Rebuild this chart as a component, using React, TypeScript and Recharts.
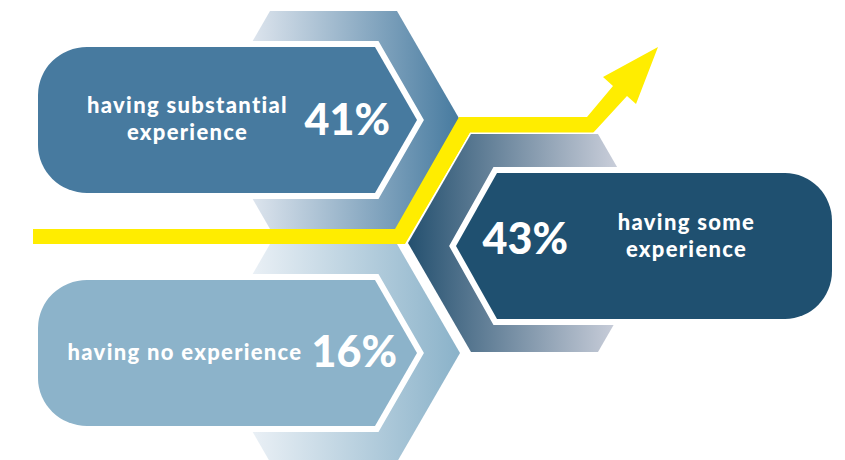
import { ScatterChart, Scatter, XAxis, YAxis } from "recharts";

const categories = ["substantial", "some", "none"];
const labelLines = [
  ["having substantial", "experience"],
  ["having some", "experience"],
  ["having no experience"],
];
const shares = [41, 43, 16];

// hexagon centres, in chart pixels (the hidden axes map 1:1)
const anchors = [
  { x: 333.5, y: 120 },
  { x: 534.5, y: 243 },
  { x: 333.5, y: 353 },
];

const rows = categories.map((name, i) => ({
  name,
  value: shares[i],
  lines: labelLines[i],
  x: anchors[i].x,
  y: anchors[i].y,
}));

const FONT = "Lato, 'Open Sans', sans-serif";
const LABEL_SIZE = 22;
const LABEL_SPACING = 1.3;
const VALUE_SIZE = 43;

const looks = [
  { fill: "#477a9f", hexFrom: "#e2e8f0", hexTo: "#467a9f", side: "left" },
  { fill: "#1f5070", hexFrom: "#24506f", hexTo: "#c8cdd9", side: "right" },
  { fill: "#8cb3ca", hexFrom: "#edf2f7", hexTo: "#8ab2c9", side: "left" },
];

const hexPath =
  "M-63.5,-109 L63.5,-109 L126.5,0 L63.5,109 L-63.5,109 L-126.5,0 Z";

const arrowPath =
  "M-501.5,-14 L-139.5,-14 L-75.5,-126 L52.5,-126 L78.5,-157 L68.5,-166 L123.5,-196 L101.5,-139 L92.5,-147 L58.5,-110 L-64.5,-110 L-129.5,1 L-501.5,1 Z";

// banner pointing right (left column)
const leftBanner = () => {
  const t = -73, b = 73, L = -295.5, rx = 49, ry = 48;
  const corner = 41.5, tip = 83.5;
  return `M${L + rx},${t} L${corner},${t} L${tip},0 L${corner},${b} L${L + rx},${b} A${rx},${ry} 0 0 1 ${L},${b - ry} L${L},${t + ry} A${rx},${ry} 0 0 1 ${L + rx},${t} Z`;
};

// banner pointing left (right column)
const rightBanner = () => {
  const t = -70, b = 76, R = 297.5, rx = 47, ry = 48;
  const corner = -37.5, tip = -78.5, mid = 3;
  return `M${corner},${t} L${R - rx},${t} A${rx},${ry} 0 0 1 ${R},${t + ry} L${R},${b - ry} A${rx},${ry} 0 0 1 ${R - rx},${b} L${corner},${b} L${tip},${mid} Z`;
};

const Label = ({ x, y, children }: any) => (
  <text x={x} y={y} fontSize={LABEL_SIZE} letterSpacing={LABEL_SPACING} textAnchor="middle">
    {children}
  </text>
);

const Value = ({ x, y, children }: any) => (
  <text x={x} y={y} fontSize={VALUE_SIZE}>
    {children}
  </text>
);

const Block = (props: any) => {
  const { cx, cy, payload } = props;
  const i = categories.indexOf(payload.name);
  const look = looks[i];
  const gid = `hexgrad-${i}`;
  const isLeft = look.side === "left";
  return (
    <g transform={`translate(${cx},${cy})`}>
      <defs>
        <linearGradient id={gid} x1="0" y1="0" x2="1" y2="0">
          <stop offset={isLeft ? "0.15" : "0"} stopColor={look.hexFrom} />
          <stop offset={isLeft ? "1" : "0.82"} stopColor={look.hexTo} />
        </linearGradient>
      </defs>
      {i === 1 && <path d={arrowPath} fill="#ffed00" />}
      <path
        d={hexPath}
        fill={`url(#${gid})`}
        stroke={i === 1 ? "#ffffff" : "none"}
        strokeWidth={3}
        paintOrder="stroke"
      />
      <path
        d={isLeft ? leftBanner() : rightBanner()}
        fill={look.fill}
        stroke="#ffffff"
        strokeWidth={12}
        strokeLinejoin="miter"
        paintOrder="stroke"
      />
      <g fill="#ffffff" fontFamily={FONT} fontWeight={900}>
        {i === 0 && (
          <>
            <Label x={-146} y={-7}>{payload.lines[0]}</Label>
            <Label x={-146} y={20}>{payload.lines[1]}</Label>
            <Value x={-29} y={15}>{`${payload.value}%`}</Value>
          </>
        )}
        {i === 1 && (
          <>
            <Value x={-52} y={11}>{`${payload.value}%`}</Value>
            <Label x={152} y={-13}>{payload.lines[0]}</Label>
            <Label x={152} y={14}>{payload.lines[1]}</Label>
          </>
        )}
        {i === 2 && (
          <>
            <Label x={-148.5} y={7}>{payload.lines[0]}</Label>
            <Value x={-22} y={14}>{`${payload.value}%`}</Value>
          </>
        )}
      </g>
    </g>
  );
};

export default function App() {
  return (
    <div style={{ position: "absolute", left: 0, top: 0, background: "#ffffff" }}>
      <ScatterChart
        width={845}
        height={460}
        margin={{ top: 0, right: 0, bottom: 0, left: 0 }}
      >
        <XAxis type="number" dataKey="x" domain={[0, 845]} hide />
        <YAxis type="number" dataKey="y" domain={[0, 460]} reversed hide />
        <Scatter data={rows} shape={Block} isAnimationActive={false} />
      </ScatterChart>
    </div>
  );
}
